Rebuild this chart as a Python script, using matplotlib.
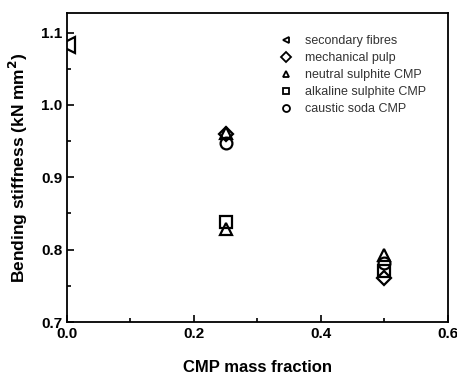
import numpy as np
from matplotlib import pyplot as plt
from matplotlib.ticker import MultipleLocator

plt.rcParams['font.family'] = ['Liberation Sans', 'DejaVu Sans']

# CMP mass fraction / bending stiffness (kN mm^2)
labels = ['secondary fibres', 'mechanical pulp', 'neutral sulphite CMP',
          'alkaline sulphite CMP', 'caustic soda CMP']
markers = ['<', 'D', '^', 's', 'o']

secondary_x = [0.0]
secondary_y = [1.083]
mech_x = [0.25, 0.5]
mech_y = [0.960, 0.761]
neutral_x = [0.25, 0.5]
neutral_y = [0.961, 0.792]
alkaline_x = [0.25, 0.5]
alkaline_y = [0.838, 0.770]
caustic_x = [0.25, 0.5]
caustic_y = [0.948, 0.781]
# neutral sulphite lower point at 0.25
neutral2_x = [0.25]
neutral2_y = [0.829]

xs = [secondary_x, mech_x, neutral_x, alkaline_x, caustic_x]
ys = [secondary_y, mech_y, neutral_y, alkaline_y, caustic_y]
sizes = [12, 7.5, 9, 8.5, 8.5]

fig = plt.figure(figsize=(4.57, 3.76), dpi=100)
ax = fig.add_axes([0.1466, 0.1436, 0.8334, 0.8218])

for x, y, m, ms, lab in zip(xs, ys, markers, sizes, labels):
    ax.plot(x, y, linestyle='none', marker=m, ms=ms, mfc='none',
            mec='black', mew=1.6, label=lab, clip_on=True)
ax.plot(neutral2_x, neutral2_y, linestyle='none', marker='^', ms=9,
        mfc='none', mec='black', mew=1.6)

ax.set_xlim(0, 0.6)
ax.set_ylim(0.7, 1.127)
ax.xaxis.set_major_locator(MultipleLocator(0.2))
ax.xaxis.set_minor_locator(MultipleLocator(0.1))
ax.yaxis.set_major_locator(MultipleLocator(0.1))
ax.yaxis.set_minor_locator(MultipleLocator(0.05))
ax.xaxis.set_major_formatter(plt.FormatStrFormatter('%.1f'))
ax.yaxis.set_major_formatter(plt.FormatStrFormatter('%.1f'))
ax.tick_params(which='both', direction='in', top=False, right=False, width=1.2)
ax.tick_params(which='major', length=5, labelsize=11)
ax.tick_params(which='minor', length=3)
for lab in ax.get_xticklabels() + ax.get_yticklabels():
    lab.set_fontweight('bold')
for s in ax.spines.values():
    s.set_linewidth(1.3)

ax.set_xlabel('CMP mass fraction', fontsize=12, fontweight='bold', labelpad=14)
ax.set_ylabel('Bending stiffness (kN mm$^\\mathbf{2}$)', fontsize=12.5,
              fontweight='bold', labelpad=8)

leg = ax.legend(loc='upper left', bbox_to_anchor=(0.53, 0.965), frameon=False,
                fontsize=9, handlelength=1.0,
                handletextpad=1.0, labelspacing=0.4)
for h in leg.legend_handles:
    h.set_markersize(5)
    h.set_markeredgewidth(1.3)
for t in leg.get_texts():
    t.set_color('#333333')

fig.savefig('out.png', dpi=100)
